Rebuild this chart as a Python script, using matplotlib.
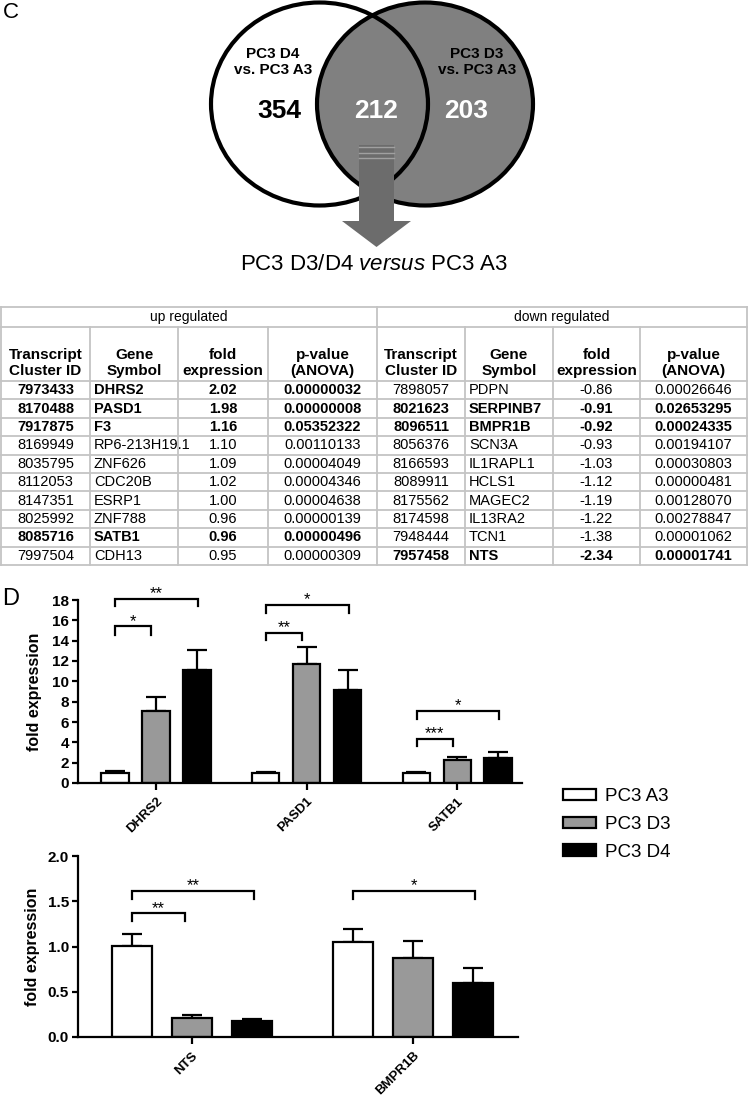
import matplotlib
matplotlib.use('Agg')
import matplotlib.pyplot as plt
from matplotlib.patches import Ellipse, Polygon, Rectangle
import numpy as np

plt.rcParams['font.family'] = ['Liberation Sans', 'DejaVu Sans']
plt.rcParams['mathtext.fontset'] = 'custom'
plt.rcParams['mathtext.rm'] = 'Liberation Sans'
plt.rcParams['mathtext.it'] = 'Liberation Sans:italic'

W, H = 750, 1096

# ---- panel C: venn ----
venn_labels = ['PC3 D4\nvs. PC3 A3', 'PC3 D3\nvs. PC3 A3']
venn_counts = ['354', '212', '203']
venn_title = r'PC3 D3/D4 $\mathit{versus}$ PC3 A3'

# ---- panel C: table ----
group_names = ['up regulated', 'down regulated']
col_headers = ['Transcript\nCluster ID', 'Gene\nSymbol', 'fold\nexpression', 'p-value\n(ANOVA)']

up_ids = ['7973433', '8170488', '7917875', '8169949', '8035795',
          '8112053', '8147351', '8025992', '8085716', '7997504']
up_genes = ['DHRS2', 'PASD1', 'F3', 'RP6-213H19.1', 'ZNF626',
            'CDC20B', 'ESRP1', 'ZNF788', 'SATB1', 'CDH13']
up_fold = ['2.02', '1.98', '1.16', '1.10', '1.09', '1.02', '1.00', '0.96', '0.96', '0.95']
up_p = ['0.00000032', '0.00000008', '0.05352322', '0.00110133', '0.00004049',
        '0.00004346', '0.00004638', '0.00000139', '0.00000496', '0.00000309']
up_bold = [1, 1, 1, 0, 0, 0, 0, 0, 1, 0]

down_ids = ['7898057', '8021623', '8096511', '8056376', '8166593',
            '8089911', '8175562', '8174598', '7948444', '7957458']
down_genes = ['PDPN', 'SERPINB7', 'BMPR1B', 'SCN3A', 'IL1RAPL1',
              'HCLS1', 'MAGEC2', 'IL13RA2', 'TCN1', 'NTS']
down_fold = ['-0.86', '-0.91', '-0.92', '-0.93', '-1.03', '-1.12', '-1.19', '-1.22', '-1.38', '-2.34']
down_p = ['0.00026646', '0.02653295', '0.00024335', '0.00194107', '0.00030803',
          '0.00000481', '0.00128070', '0.00278847', '0.00001062', '0.00001741']
down_bold = [0, 1, 1, 0, 0, 0, 0, 0, 0, 1]

# ---- panel D: qPCR bars ----
series_names = ['PC3 A3', 'PC3 D3', 'PC3 D4']
series_colors = ['white', '#999999', 'black']

top_genes = ['DHRS2', 'PASD1', 'SATB1']
top_a3 = [1.0, 1.0, 1.0]
top_a3_err = [0.15, 0.12, 0.1]
top_d3 = [7.1, 11.75, 2.3]
top_d3_err = [1.35, 1.6, 0.25]
top_d4 = [11.1, 9.15, 2.45]
top_d4_err = [1.95, 2.0, 0.58]
# (gene index, compared bar index, leg bottom, bracket height, stars)
top_sig = [(0, 1, 14.6, 15.4, '*'), (0, 2, 17.4, 18.1, '**'),
           (1, 1, 14.05, 14.77, '**'), (1, 2, 16.7, 17.5, '*'),
           (2, 1, 3.6, 4.35, '***'), (2, 2, 6.3, 7.1, '*')]

bot_genes = ['NTS', 'BMPR1B']
bot_a3 = [1.01, 1.05]
bot_a3_err = [0.13, 0.14]
bot_d3 = [0.21, 0.875]
bot_d3_err = [0.035, 0.185]
bot_d4 = [0.177, 0.6]
bot_d4_err = [0.025, 0.157]
bot_sig = [(0, 1, 1.28, 1.365, '**'), (0, 2, 1.53, 1.616, '**'),
           (1, 2, 1.53, 1.616, '*')]


def px_rect(x0, y0, x1, y1):
    return [x0 / W, 1 - y1 / H, (x1 - x0) / W, (y1 - y0) / H]


fig = plt.figure(figsize=(W / 100, H / 100), dpi=100)

# background axes in pixel coordinates for venn + table
ax0 = fig.add_axes([0, 0, 1, 1])
ax0.set_xlim(0, W)
ax0.set_ylim(H, 0)
ax0.axis('off')

ax0.text(3, 13, 'C', fontsize=16, ha='left', va='center')
ax0.text(2, 599, 'D', fontsize=17, ha='left', va='center')

# venn circles
ax0.add_patch(Ellipse((319.5, 104), 217, 203, fc='white', ec='none', zorder=1))
ax0.add_patch(Ellipse((425, 104), 216, 203, fc='#808080', ec='none', zorder=2))
ax0.add_patch(Ellipse((319.5, 104), 217, 203, fc='none', ec='black', lw=3.0, zorder=3))
ax0.add_patch(Ellipse((425, 104), 216, 203, fc='none', ec='black', lw=3.0, zorder=3))

arrow = [(359, 145), (394, 145), (394, 221), (411, 221), (376.5, 247), (342, 221), (359, 221)]
ax0.add_patch(Polygon(arrow, closed=True, fc='#6c6c6c', ec='none', zorder=4))
for yy in [147, 152.5, 158]:
    ax0.plot([359, 394], [yy, yy], color='#a0a0a0', lw=1.0, zorder=5)

ax0.text(273, 62, venn_labels[0], ha='center', va='center', fontsize=11,
         fontweight='bold', linespacing=1.15, zorder=6)
ax0.text(477, 62, venn_labels[1], ha='center', va='center', fontsize=11,
         fontweight='bold', linespacing=1.15, zorder=6)
ax0.text(279, 111, venn_counts[0], ha='center', va='center', fontsize=19,
         fontweight='bold', color='black', zorder=6)
ax0.text(376, 111, venn_counts[1], ha='center', va='center', fontsize=19,
         fontweight='bold', color='white', zorder=6)
ax0.text(466, 111, venn_counts[2], ha='center', va='center', fontsize=19,
         fontweight='bold', color='white', zorder=6)
ax0.text(374, 265, venn_title, ha='center', va='center', fontsize=16)

# table grid
cols = [1, 90, 178, 268, 377, 465, 553, 640, 747]
y_top, y_grp, y_head = 307, 327, 381
row_h = 18.4
n_rows = len(up_ids)
y_bot = y_head + n_rows * row_h
grid_c = '#c4c4c4'

for yy in [y_top, y_grp] + [y_head + k * row_h for k in range(n_rows + 1)]:
    ax0.plot([cols[0], cols[-1]], [yy, yy], color=grid_c, lw=1.3)
for i, xx in enumerate(cols):
    y_start = y_top if i in (0, 4, 8) else y_grp
    ax0.plot([xx, xx], [y_start, y_bot], color=grid_c, lw=1.3)

ax0.text((cols[0] + cols[4]) / 2, (y_top + y_grp) / 2, group_names[0],
         ha='center', va='center', fontsize=10)
ax0.text((cols[4] + cols[8]) / 2, (y_top + y_grp) / 2, group_names[1],
         ha='center', va='center', fontsize=10)

for side in range(2):
    for j, hd in enumerate(col_headers):
        c0, c1 = cols[side * 4 + j], cols[side * 4 + j + 1]
        ax0.text((c0 + c1) / 2, 363, hd, ha='center', va='center', fontsize=11,
                 fontweight='bold', linespacing=1.15)

for side, (ids, genes, fold, pv, bold) in enumerate([
        (up_ids, up_genes, up_fold, up_p, up_bold),
        (down_ids, down_genes, down_fold, down_p, down_bold)]):
    base = side * 4
    for i in range(n_rows):
        yc = y_head + (i + 0.5) * row_h
        fw = 'bold' if bold[i] else 'normal'
        ax0.text((cols[base] + cols[base + 1]) / 2, yc, ids[i], ha='center',
                 va='center', fontsize=10.5, fontweight=fw)
        t = ax0.text(cols[base + 1] + 4, yc, genes[i], ha='left', va='center',
                     fontsize=10.5, fontweight=fw)
        clip = Rectangle((cols[base + 1], yc - row_h / 2), cols[base + 2] - cols[base + 1] - 1,
                         row_h, transform=ax0.transData, fc='none', ec='none')
        ax0.add_patch(clip)
        t.set_clip_path(clip)
        ax0.text((cols[base + 2] + cols[base + 3]) / 2, yc, fold[i], ha='center',
                 va='center', fontsize=10.5, fontweight=fw)
        ax0.text((cols[base + 3] + cols[base + 4]) / 2, yc, pv[i], ha='center',
                 va='center', fontsize=10.5, fontweight=fw)


def bar_panel(ax, genes, vals, errs, sig, ymax, ystep, xlim, fmt):
    ax.patch.set_visible(False)
    x = np.arange(len(genes))
    offs = [-0.272, 0.0, 0.272]
    handles = []
    for k in range(3):
        h = ax.bar(x + offs[k], vals[k], width=0.182, color=series_colors[k],
                   edgecolor='black', linewidth=1.6, zorder=2)
        ax.errorbar(x + offs[k], vals[k], yerr=[np.zeros(len(genes)), errs[k]],
                    fmt='none', ecolor='black', elinewidth=1.6, capsize=7,
                    capthick=1.6, zorder=1)
        handles.append(h)
    right_off = [None, -0.03, 0.28]
    for gi, tgt, lo, hi, stars in sig:
        l = gi - 0.27
        r = gi + right_off[tgt]
        ax.plot([l, l, r, r], [lo, hi, hi, lo], color='black', lw=1.6,
                clip_on=False, solid_joinstyle='miter')
        ax.annotate(stars, xy=((l + r) / 2, hi), xytext=(0, 0.5),
                    textcoords='offset points', ha='center', va='baseline',
                    fontsize=12, annotation_clip=False)
    ax.set_xlim(*xlim)
    ax.set_ylim(0, ymax)
    yt = np.arange(0, ymax + ystep / 2, ystep)
    ax.set_yticks(yt, [fmt % v for v in yt], fontweight='bold', fontsize=11)
    ax.set_xticks(x, genes, rotation=45, ha='right', va='top',
                  rotation_mode='anchor', fontweight='bold', fontsize=9.5)
    ax.tick_params(axis='y', direction='out', width=1.6, length=4, pad=2.5)
    ax.tick_params(axis='x', direction='out', width=1.6, length=5, pad=4)
    for s in ['top', 'right']:
        ax.spines[s].set_visible(False)
    for s in ['left', 'bottom']:
        ax.spines[s].set_linewidth(1.6)
    ax.set_ylabel('fold expression', fontsize=11.5, fontweight='bold')
    return handles


ax1 = fig.add_axes(px_rect(78, 600, 522, 783))
handles = bar_panel(ax1, top_genes, [top_a3, top_d3, top_d4],
                    [top_a3_err, top_d3_err, top_d4_err], top_sig, 18, 2,
                    (-0.517, 2.43), '%d')
ax1.yaxis.set_label_coords(-36 / 444, 0.5)

ax2 = fig.add_axes(px_rect(78, 856, 518, 1037))
bar_panel(ax2, bot_genes, [bot_a3, bot_d3, bot_d4],
          [bot_a3_err, bot_d3_err, bot_d4_err], bot_sig, 2.0, 0.5,
          (-0.515, 1.475), '%.1f')
ax2.yaxis.set_label_coords(-38 / 440, 0.5)

fig.legend(handles, series_names, loc='upper left',
           bbox_to_anchor=(563 / W, 1 - 788 / H), frameon=False, fontsize=13.5,
           handlelength=1.76, handleheight=0.55, handletextpad=0.5,
           labelspacing=0.58, borderaxespad=0, borderpad=0)

fig.savefig('out.png', dpi=100)
